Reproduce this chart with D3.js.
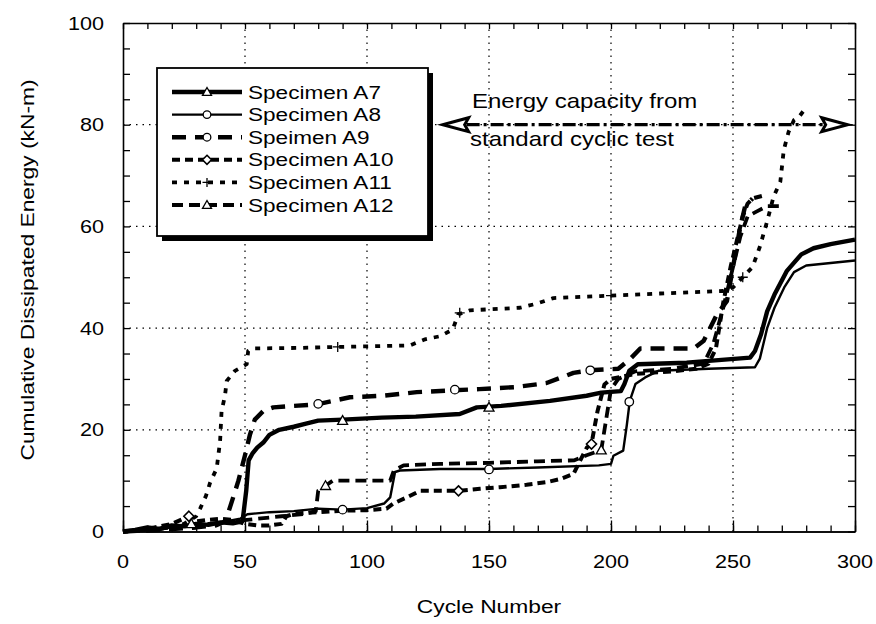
<!DOCTYPE html>
<html><head><meta charset="utf-8">
<script src="https://cdn.jsdelivr.net/npm/d3@7"></script>
<style>
body{margin:0;background:#fff}
svg text{font-family:"Liberation Sans",Arial,Helvetica,sans-serif;fill:#000}
</style>
</head><body>
<svg id="c" width="876" height="624"></svg>
<script>
// ---------- data ----------
const xTicks=[0,50,100,150,200,250,300];
const yTicks=[0,20,40,60,80,100];
const xGrid=[50,100,150,200,250];
const yGrid=[20,40,60,80];
const seriesNames=["Specimen A7","Specimen A8","Speimen A9","Specimen A10","Specimen A11","Specimen A12"];

const a7=[[0,0],[5,0.3],[10,0.8],[15,0.5],[20,1.2],[25,1],[30,1.5],[35,1.3],[40,1.8],[45,1.6],[49,2],[50.5,8],[51.5,14],[53,15.3],[55,16.5],[57.5,17.5],[60,19],[64,20],[70,20.6],[75,21.2],[80,21.8],[90,22],[106,22.4],[120,22.6],[138,23.1],[145,24.4],[155,24.7],[175,25.7],[190,26.7],[196,27.3],[204,27.6],[205.5,29],[207.5,31.6],[211,32.9],[231,33.2],[257,34.2],[259,35.5],[261.5,38.8],[264,43.3],[267,46.6],[272,51.2],[278,54.5],[283,55.7],[290,56.5],[300,57.4]];
const a8=[[0,0],[10,0.3],[20,0.8],[30,1.2],[40,1.8],[48,2.5],[51,3.4],[60,3.8],[70,4],[80,4.5],[90,4.3],[100,4.6],[107,5.5],[109.5,6.7],[111.5,11.7],[113.5,12],[130,12.3],[150,12.3],[170,12.6],[195,13],[200,13.3],[201,14.9],[205,15.9],[206.5,21],[207.7,25.7],[210,29],[214,30.3],[219.4,31.6],[240,32],[259,32.3],[261,34],[264,40],[267,44],[271,48],[275,51],[280,52.3],[290,52.8],[300,53.3]];
const a9=[[0,0],[10,0.2],[20,0.5],[30,0.8],[38,1.2],[42,2],[44,5],[46,8],[47.3,10],[50,15],[52,19],[54,22],[57.5,23.7],[61.6,24.4],[69.8,24.7],[79.4,25],[93,26.4],[106.7,26.7],[120.4,27.4],[132.7,27.7],[146,28],[161,28.4],[173.6,29.2],[184.6,31.2],[191.4,31.7],[199,31.9],[203,32],[208,34],[212,36],[234,36],[238,37.5],[243.4,42.7],[247.5,45.3],[250,52],[253,60],[255,64],[258,65.5]];
const a10=[[0,0],[10,0.5],[20,1.5],[27,3],[30,2],[35,2.3],[40,2.5],[45,2.3],[50,1.5],[55,1.2],[60,1.2],[65,1.5],[67,3],[70,3.5],[80,3.8],[90,4.1],[100,4.2],[108,4.5],[110.8,5.5],[116.3,6.7],[121.8,8],[130,8],[137.5,8],[146.3,8.4],[154.5,8.7],[165.4,9.2],[173.6,9.7],[179.1,10.3],[184.6,11.3],[188.7,15.2],[190.1,16.5],[192,17.2],[193.2,20.4],[194.5,23.7],[195.9,26.3],[197.3,28.9],[200,30],[210,31],[225,31.5],[235,32],[240,33],[243,36],[246,45],[249,52],[252,58],[254,62],[256,64.5],[258,65.5],[262,66]];
const a11=[[0,0],[10,0.2],[20,0.8],[25,1.5],[30,3],[31.6,4.5],[34,7],[35.7,9.6],[38.4,12.4],[39.8,17.8],[40.4,23.7],[41.8,26.7],[42.5,29.6],[45.9,31.6],[50.7,32.9],[51.3,35.5],[53,36],[72,36.1],[88,36.3],[100,36.4],[117.6,36.6],[123.8,37.8],[129.9,38.4],[135.1,39.7],[137.4,42.7],[142.2,43.5],[162.7,44],[169.5,44.8],[176.4,45.9],[195.5,46.3],[200,46.4],[220,46.8],[246,47.3],[250,48],[254,50],[258,52],[261,56],[264,61],[266.6,65.8],[269.4,68.8],[270.8,75],[272.8,78.6],[275,80.9],[277,81.5],[279.5,83.1]];
const a12=[[0,0],[10,0.3],[20,0.8],[28,1.5],[35,1.5],[45,2],[55,2.5],[65,3],[75,3.5],[79,4],[80,8],[83,9],[86,10],[100,10],[109.5,10],[111,12],[115,13],[130,13.3],[150,13.5],[170,13.8],[185,14],[190,15],[196,16],[198,22],[200,28],[203,30],[210,31.5],[225,32],[238,33],[242,37],[246,44],[250,52],[253,58],[256,62],[260,63],[264,64],[269,64]];

const m7=[[90,21.8],[150,24.4]];
const m8=[[90,4.3],[150,12.2],[207.5,25.5]];
const m9=[[80,25.1],[136,27.9],[191.5,31.7]];
const m10=[[27,3],[137.5,8],[192,17.2]];
const m11=[[88,36.3],[138,43],[200,46.4],[254,50]];
const m12=[[28,1.5],[83,9],[196,16]];

const annotationLines=["Energy capacity from","standard cyclic test"];
const capacityLevel=80, capacityFrom=131, capacityTo=297;
const xTitle="Cycle Number", yTitle="Cumulative Dissipated Energy (kN-m)";

// ---------- styles ----------
const styles=[
 {w:4.4,dash:null,mk:"tri"},
 {w:2.4,dash:null,mk:"circ"},
 {w:4.4,dash:"14,9",mk:"circ"},
 {w:4,dash:"8,5",mk:"diam"},
 {w:3.8,dash:"5,7",mk:"plus"},
 {w:3.8,dash:"11,6",mk:"tri"}
];
const allSeries=[a7,a8,a9,a10,a11,a12];
const allMarks=[m7,m8,m9,m10,m11,m12];

const svg=d3.select("#c");
const x=d3.scaleLinear().domain([0,300]).range([123,855]);
const y=d3.scaleLinear().domain([0,100]).range([531.5,23]);
const SX=1.2;

// grid
svg.append("g").selectAll("line").data(xGrid).join("line")
 .attr("x1",d=>x(d)).attr("x2",d=>x(d)).attr("y1",y(0)).attr("y2",y(100))
 .attr("stroke","#000").attr("stroke-width",1.2).attr("stroke-dasharray","1.5,5");
svg.append("g").selectAll("line").data(yGrid).join("line")
 .attr("y1",d=>y(d)).attr("y2",d=>y(d)).attr("x1",x(0)).attr("x2",x(300))
 .attr("stroke","#000").attr("stroke-width",1.2).attr("stroke-dasharray","1.5,5");

// axes (ticks inward)
function axisStyle(g){g.select(".domain").attr("stroke","#000").attr("stroke-width",1.6);g.selectAll(".tick line").attr("stroke","#000").attr("stroke-width",1.3);g.selectAll("text").remove();}
svg.append("g").attr("transform",`translate(0,${y(0)})`).call(d3.axisBottom(x).tickValues(d3.range(0,301,10)).tickSize(-6).tickSizeOuter(0)).call(axisStyle);
svg.append("g").attr("transform",`translate(0,${y(0)})`).call(d3.axisBottom(x).tickValues(xTicks).tickSize(-11).tickSizeOuter(0)).call(axisStyle);
svg.append("g").attr("transform",`translate(0,${y(100)})`).call(d3.axisTop(x).tickValues(d3.range(0,301,10)).tickSize(-6).tickSizeOuter(0)).call(axisStyle);
svg.append("g").attr("transform",`translate(${x(0)},0)`).call(d3.axisLeft(y).tickValues(d3.range(0,101,5)).tickSize(-7).tickSizeOuter(0)).call(axisStyle);
svg.append("g").attr("transform",`translate(${x(300)},0)`).call(d3.axisRight(y).tickValues(d3.range(0,101,5)).tickSize(-7).tickSizeOuter(0)).call(axisStyle);

// tick labels
svg.append("g").selectAll("text").data(xTicks).join("text")
 .attr("transform",d=>`translate(${x(d)},568) scale(${SX},1)`)
 .attr("text-anchor","middle").style("font-size","18px").text(d=>d);
svg.append("g").selectAll("text").data(yTicks).join("text")
 .attr("transform",d=>`translate(104,${y(d)+6.5}) scale(${SX},1)`)
 .attr("text-anchor","end").style("font-size","18px").text(d=>d);

// titles
svg.append("text").attr("transform",`translate(489,613) scale(${SX},1)`).attr("text-anchor","middle").style("font-size","19px").text(xTitle);
svg.append("text").attr("transform",`translate(34,270) rotate(-90) scale(${SX},1)`).attr("text-anchor","middle").style("font-size","19px").text(yTitle);

// markers
function marker(g,type,cx,cy,s){
 s=s||5;
 if(type==="tri") g.append("path").attr("d",`M${cx},${cy-s}L${cx+s},${cy+s*0.75}L${cx-s},${cy+s*0.75}Z`).attr("fill","#fff").attr("stroke","#000").attr("stroke-width",1.3);
 else if(type==="circ") g.append("circle").attr("cx",cx).attr("cy",cy).attr("r",s*0.85).attr("fill","#fff").attr("stroke","#000").attr("stroke-width",1.3);
 else if(type==="diam") g.append("path").attr("d",`M${cx},${cy-s}L${cx+s},${cy}L${cx},${cy+s}L${cx-s},${cy}Z`).attr("fill","#fff").attr("stroke","#000").attr("stroke-width",1.6);
 else if(type==="plus") g.append("path").attr("d",`M${cx-s},${cy}H${cx+s}M${cx},${cy-s}V${cy+s}`).attr("stroke","#000").attr("stroke-width",1.3).attr("fill","none");
}

// series
const line=d3.line().x(d=>x(d[0])).y(d=>y(d[1]));
const plot=svg.append("g");
allSeries.forEach((s,i)=>{
 const st=styles[i];
 plot.append("path").datum(s).attr("d",line).attr("fill","none").attr("stroke","#000")
  .attr("stroke-width",st.w).attr("stroke-linejoin","round")
  .attr("stroke-dasharray",st.dash);
});
allMarks.forEach((ms,i)=>{ms.forEach(p=>marker(plot,styles[i].mk,x(p[0]),y(p[1]),5));});

// capacity arrow
const cy=y(capacityLevel);
svg.append("line").attr("x1",x(capacityFrom)+24).attr("x2",x(capacityTo)-24).attr("y1",cy).attr("y2",cy)
 .attr("stroke","#000").attr("stroke-width",3.2).attr("stroke-dasharray","13,4,3,4");
const xl=x(capacityFrom), xr=x(capacityTo);
svg.append("path").attr("d",`M${xl},${cy}L${xl+26},${cy-7}L${xl+22},${cy}L${xl+26},${cy+7}Z`).attr("fill","#fff").attr("stroke","#000").attr("stroke-width",3).attr("stroke-linejoin","miter");
svg.append("path").attr("d",`M${xr},${cy}L${xr-26},${cy-7}L${xr-22},${cy}L${xr-26},${cy+7}Z`).attr("fill","#fff").attr("stroke","#000").attr("stroke-width",3).attr("stroke-linejoin","miter");
svg.append("text").attr("transform",`translate(472,108) scale(${SX},1)`).style("font-size","20px").text(annotationLines[0]);
svg.append("text").attr("transform",`translate(470,146) scale(${SX},1)`).style("font-size","20px").text(annotationLines[1]);

// legend
const lg=svg.append("g");
lg.append("rect").attr("x",162).attr("y",73).attr("width",271).attr("height",168).attr("fill","#000");
lg.append("rect").attr("x",157).attr("y",68).attr("width",271).attr("height",168).attr("fill","#fff").attr("stroke","#000").attr("stroke-width",1.8);
seriesNames.forEach((n,i)=>{
 const ry=92+i*22.6, st=styles[i];
 lg.append("line").attr("x1",172).attr("x2",242).attr("y1",ry).attr("y2",ry).attr("stroke","#000")
  .attr("stroke-width",st.w).attr("stroke-dasharray",st.dash);
 marker(lg,st.mk,207,ry,4.5);
 lg.append("text").attr("transform",`translate(248,${ry+6.5}) scale(1.22,1)`).style("font-size","18.5px").text(n);
});
</script>
</body></html>
